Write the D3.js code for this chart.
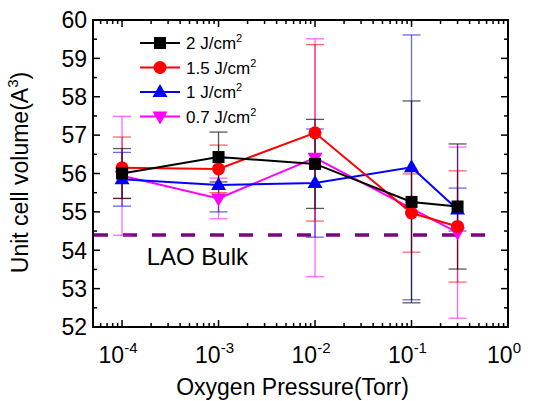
<!DOCTYPE html>
<html lang="en">
<head>
  <meta charset="utf-8">
  <title>Unit cell volume vs oxygen pressure</title>
  <script src="https://d3js.org/d3.v7.min.js"></script>
  <style>
    html, body { margin:0; padding:0; background:#fff; }
    svg { display:block; font-family:"Liberation Sans", Arial, sans-serif; }
  </style>
</head>
<body>
  <div id="chart"></div>
  <script>
    // ─── Data ───────────────────────────────────────────────────────────────
    const pressures = [1e-4, 1e-3, 1e-2, 1e-1, 0.3];
    const vol2   = [56.00, 56.43, 56.25, 55.26, 55.14];
    const err2   = [0.65, 0.65, 1.16, 2.63, 1.63];
    const vol15  = [56.15, 56.12, 57.06, 54.97, 54.62];
    const err15  = [0.80, 0.62, 2.30, 1.02, 1.45];
    const vol1   = [55.85, 55.70, 55.75, 56.16, 55.06];
    const err1   = [0.70, 0.70, 1.41, 3.45, 0.56];
    const vol07  = [55.94, 55.35, 56.41, null, 54.46];
    const err07  = [1.55, 0.53, 3.10, null, 2.23];
    const laoBulk = 54.4;
    const xTickExps = [-4, -3, -2, -1, 0];
    const yTicks = [52, 53, 54, 55, 56, 57, 58, 59, 60];
    // ─────────────────────────────────────────────────────────────────────────

    const series = [
      { label: "0.7 J/cm", vals: vol07, errs: err07, color: "#ff00ff", sym: "tri-down" },
      { label: "1 J/cm",   vals: vol1,  errs: err1,  color: "#0000ff", sym: "tri-up" },
      { label: "1.5 J/cm", vals: vol15, errs: err15, color: "#ff0000", sym: "circle" },
      { label: "2 J/cm",   vals: vol2,  errs: err2,  color: "#000000", sym: "square" }
    ];

    const W = 535, H = 401;
    const margin = { top: 20, right: 27, bottom: 74, left: 93 };
    const w = W - margin.left - margin.right;
    const h = H - margin.top - margin.bottom;

    const svg = d3.select("#chart").append("svg")
      .attr("width", W).attr("height", H);
    const g = svg.append("g")
      .attr("transform", `translate(${margin.left},${margin.top})`);

    const x = d3.scaleLog().domain([5e-5, 1]).range([0, w]);
    const y = d3.scaleLinear().domain([52, 60]).range([h, 0]);

    // Ticks (all pointing inward, on all four sides)
    const minorX = [];
    for (let e = -5; e < 0; e++) for (let m = 1; m < 10; m++) {
      const v = m * Math.pow(10, e);
      if (v >= 5e-5 && v <= 1) minorX.push(v);
    }
    const tg = g.append("g").attr("stroke", "#000").attr("stroke-width", 1.5);
    minorX.forEach(v => {
      const major = Math.abs(Math.log10(v) - Math.round(Math.log10(v))) < 1e-9;
      const len = major ? 7 : 4;
      tg.append("line").attr("x1", x(v)).attr("x2", x(v)).attr("y1", h).attr("y2", h - len);
      tg.append("line").attr("x1", x(v)).attr("x2", x(v)).attr("y1", 0).attr("y2", len);
    });
    d3.range(52, 60.01, 0.5).forEach(v => {
      const len = Number.isInteger(v) ? 7 : 4;
      tg.append("line").attr("x1", 0).attr("x2", len).attr("y1", y(v)).attr("y2", y(v));
      tg.append("line").attr("x1", w).attr("x2", w - len).attr("y1", y(v)).attr("y2", y(v));
    });

    // Y tick labels
    g.append("g").selectAll("text").data(yTicks).join("text")
      .attr("x", -6).attr("y", d => y(d)).attr("dy", "0.36em")
      .attr("text-anchor", "end").attr("font-size", 23)
      .text(d => d);

    // X tick labels 10^n
    xTickExps.forEach(e => {
      const t = g.append("text")
        .attr("x", x(Math.pow(10, e)) - 4).attr("y", h + 36)
        .attr("text-anchor", "middle").attr("font-size", 23);
      t.append("tspan").text("10");
      t.append("tspan").attr("dy", -10).attr("font-size", 15).text(String(e));
    });

    // Axis titles
    g.append("text")
      .attr("x", w / 2 - 8).attr("y", h + 68)
      .attr("text-anchor", "middle").attr("font-size", 23)
      .text("Oxygen Pressure(Torr)");
    const yt = g.append("text")
      .attr("transform", `translate(${-65},${h / 2 - 1}) rotate(-90)`)
      .attr("text-anchor", "middle").attr("font-size", 23);
    yt.append("tspan").text("Unit cell volume(A");
    yt.append("tspan").attr("dy", -10).attr("font-size", 15).text("3");
    yt.append("tspan").attr("dy", 10).text(")");

    // LAO bulk reference
    g.append("line")
      .attr("x1", 1).attr("x2", x(0.65))
      .attr("y1", y(laoBulk)).attr("y2", y(laoBulk))
      .attr("stroke", "#800080").attr("stroke-width", 3.5)
      .attr("stroke-dasharray", "14,15");
    g.append("text")
      .attr("x", x(1.8e-4)).attr("y", y(laoBulk) + 30)
      .attr("font-size", 24).text("LAO Bulk");

    // Error bars
    const cap = 9;
    series.forEach(s => {
      const eg = g.append("g")
        .attr("stroke", s.color).attr("stroke-width", 1.3)
        .attr("stroke-opacity", s.color === "#000000" ? 0.65 : 0.6);
      pressures.forEach((p, i) => {
        if (s.vals[i] == null) return;
        const cx = x(p), lo = y(s.vals[i] - s.errs[i]), hi = y(s.vals[i] + s.errs[i]);
        eg.append("line").attr("x1", cx).attr("x2", cx).attr("y1", lo).attr("y2", hi);
        eg.append("line").attr("x1", cx - cap).attr("x2", cx + cap).attr("y1", lo).attr("y2", lo);
        eg.append("line").attr("x1", cx - cap).attr("x2", cx + cap).attr("y1", hi).attr("y2", hi);
      });
    });

    // Marker drawing helper
    function marker(sel, sym, cx, cy, color) {
      if (sym === "square") {
        sel.append("rect").attr("x", cx - 6).attr("y", cy - 6)
          .attr("width", 12).attr("height", 12).attr("fill", color);
      } else if (sym === "circle") {
        sel.append("circle").attr("cx", cx).attr("cy", cy).attr("r", 6.5).attr("fill", color);
      } else if (sym === "tri-up") {
        sel.append("path").attr("d", `M${cx},${cy - 8}L${cx + 7.5},${cy + 5}L${cx - 7.5},${cy + 5}Z`)
          .attr("fill", color);
      } else {
        sel.append("path").attr("d", `M${cx},${cy + 8}L${cx + 7.5},${cy - 5}L${cx - 7.5},${cy - 5}Z`)
          .attr("fill", color);
      }
    }

    // Series lines + markers
    const line = d3.line()
      .defined(d => d.v != null)
      .x(d => x(d.p)).y(d => y(d.v));
    series.forEach(s => {
      const pts = pressures.map((p, i) => ({ p, v: s.vals[i] })).filter(d => d.v != null);
      g.append("path").datum(pts).attr("d", line)
        .attr("fill", "none").attr("stroke", s.color).attr("stroke-width", 2);
      const mg = g.append("g");
      pts.forEach(d => marker(mg, s.sym, x(d.p), y(d.v), s.color));
    });

    // Frame
    g.append("rect").attr("width", w).attr("height", h)
      .attr("fill", "none").attr("stroke", "#000").attr("stroke-width", 2);

    // Legend (top-down order: 2, 1.5, 1, 0.7)
    const legend = g.append("g").attr("transform", "translate(47,23)");
    series.slice().reverse().forEach((s, i) => {
      const ly = i * 24.5;
      legend.append("line").attr("x1", 0).attr("x2", 40).attr("y1", ly).attr("y2", ly)
        .attr("stroke", s.color).attr("stroke-width", 2);
      marker(legend, s.sym, 20, ly, s.color);
      const t = legend.append("text").attr("x", 46).attr("y", ly).attr("dy", "0.36em")
        .attr("font-size", 17);
      t.append("tspan").text(s.label);
      t.append("tspan").attr("dy", -7).attr("font-size", 11).text("2");
    });
  </script>
</body>
</html>
